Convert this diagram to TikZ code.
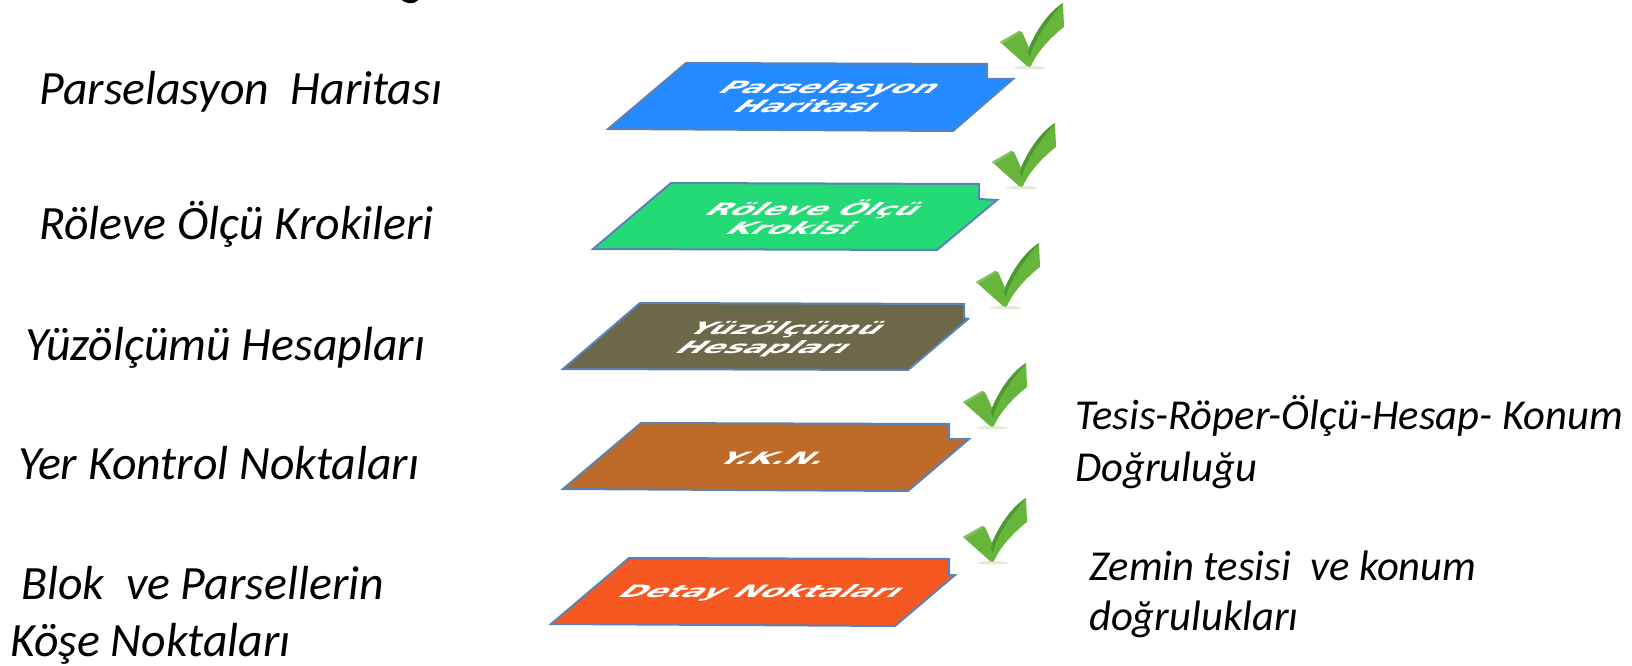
\documentclass[tikz,border=0pt]{standalone}
\usepackage{fontspec}
\setmainfont{Carlito}
\newfontfamily\boxfont{DejaVu Sans}
\definecolor{edgeblue}{HTML}{5B82B8}
\definecolor{chkmain}{HTML}{68B53C}
\definecolor{chkdark}{HTML}{4A9A30}
\definecolor{chklight}{HTML}{86C262}
\definecolor{chkshadow}{HTML}{E2ECD8}
\definecolor{sheetA}{RGB}{36,138,255}
\definecolor{sheetB}{RGB}{36,218,118}
\definecolor{sheetC}{RGB}{110,104,74}
\definecolor{sheetD}{RGB}{190,107,41}
\definecolor{sheetE}{RGB}{246,88,33}
\tikzset{
  lbl/.style={anchor=base west,inner sep=0pt,font=\itshape\fontsize{47.8}{47.8}\selectfont,text=black},
  side/.style={anchor=base west,inner sep=0pt,font=\itshape\fontsize{42.6}{42.6}\selectfont,text=black},
  sheet/.style={draw=edgeblue,line width=2pt,line join=miter},
  boxtxt/.style={align=center,inner sep=0pt,text=white,transform shape,cm={1.86,0,1.2,1,(0,0)},font=\boxfont\bfseries\fontsize{17}{19}\selectfont},
  chk/.pic={
    \fill[chkshadow] (-16,1) .. controls (-8,3) and (12,3) .. (18,1) .. controls (8,-2) and (-8,-2) .. cycle;
    \fill[chkmain] (-29,-25) -- (-10,-36) .. controls (-8,-36) and (-7,-35) .. (-6,-33) -- (0,-19) .. controls (8,-38) and (20,-55) .. (34,-64) -- (35,-40) .. controls (22,-30) and (8,-15) .. (2,-1) .. controls (1,0) and (-1,0) .. (-2,-1) -- cycle;
    \fill[chkdark] (0,-19) .. controls (8,-38) and (20,-55) .. (34,-64) .. controls (24,-52) and (10,-36) .. (2,-14) -- cycle;
    \fill[chkdark] (0,-19) -- (2,-14) -- (1,-9) -- (-1,-14) -- cycle;
    \fill[chklight] (-29,-25) -- (-10,-36) -- (-9,-34) -- (-26,-24) -- cycle;
  }
}
\begin{document}
\begin{tikzpicture}[x=1pt,y=-1pt]
\useasboundingbox (0,0) rectangle (1632,666);
% clipped descender at the top edge
\begin{scope}
\clip (0,0) rectangle (1632,666);
\draw[line width=3.2pt,black] (401,-4) .. controls (404,3) and (414,3) .. (417,-1);
\end{scope}

% left labels
\node[lbl] (l1) at (39,105) {Parselasyon\ \ Haritası};
\node[lbl] (l2) at (39,239) {Röleve Ölçü Krokileri};
\node[lbl] (l3) at (25,360) {Yüzölçümü Hesapları};
\node[lbl] (l4) at (18,479) {Yer Kontrol Noktaları};
\node[lbl] (l5) at (21,599) {Blok\ \ ve Parsellerin};
\node[lbl] (l6) at (10,656) {Köşe Noktaları};

% sheets
\draw[sheet,fill=sheetA] (686,63) -- (987,64) -- (987,79) -- (1013,79) -- (953,131) -- (608,129) -- cycle;
\node[boxtxt] (b1) at (820,97) {Parselasyon\\Haritası};
\draw[sheet,fill=sheetB] (671,183) -- (979,184) -- (979,199) -- (997,200) -- (937,250) -- (593,249) -- cycle;
\node[boxtxt] (b2) at (806,217) {Röleve Ölçü\\Krokisi};
\draw[sheet,fill=sheetC] (640,303) -- (964,304) -- (964,318) -- (968,319) -- (908,370) -- (563,369) -- cycle;
\node[boxtxt] (b3) at (775,339) {Yüzölçümü\\Hesapları};
\draw[sheet,fill=sheetD] (641,423) -- (949,424) -- (949,439) -- (969,439) -- (908,491) -- (563,489) -- cycle;
\node[boxtxt] (b4) at (775,458) {Y.K.N.};
\draw[sheet,fill=sheetE] (629,558) -- (949,559) -- (949,575) -- (955,575) -- (895,626) -- (551,624) -- cycle;
\node[boxtxt] (b5) at (761,593) {Detay Noktaları};

% check marks
\pic at (1029,67) {chk};
\pic at (1021,187) {chk};
\pic at (1005,307) {chk};
\pic at (992,427) {chk};
\pic at (992,562) {chk};

% right notes
\node[side] (r1) at (1075,429) {Tesis-Röper-Ölçü-Hesap- Konum};
\node[side] (r2) at (1075,481) {Doğruluğu};
\node[side] (r3) at (1089,580) {Zemin tesisi\ \ ve konum};
\node[side] (r4) at (1089,630) {doğrulukları};
\end{tikzpicture}
\end{document}
